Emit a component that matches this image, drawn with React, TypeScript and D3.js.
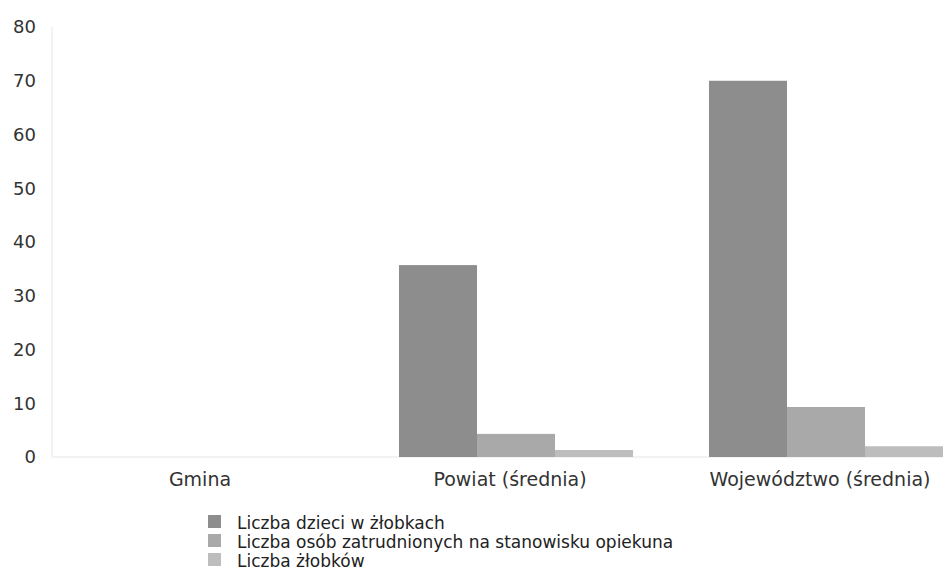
import React from "react";
import * as d3 from "d3";

const categories = ["Gmina", "Powiat (średnia)", "Województwo (średnia)"];
const seriesNames = [
  "Liczba dzieci w żłobkach",
  "Liczba osób zatrudnionych na stanowisku opiekuna",
  "Liczba żłobków",
];
const dzieci = [0, 35.7, 70.0];
const opiekunowie = [0, 4.3, 9.3];
const zlobki = [0, 1.3, 2.0];
const yTicks = [0, 10, 20, 30, 40, 50, 60, 70, 80];
const colors = ["#8d8d8d", "#a9a9a9", "#bdbdbd"];

const W = 943;
const H = 584;
const FONT = "'DejaVu Sans', Verdana, sans-serif";

export default function App() {
  const series = [dzieci, opiekunowie, zlobki];
  const x0 = d3
    .scaleBand<string>()
    .domain(categories)
    .range([51, 981])
    .paddingInner(0.245)
    .paddingOuter(0.1225);
  const x1 = d3
    .scaleBand<number>()
    .domain(d3.range(seriesNames.length))
    .range([0, x0.bandwidth()])
    .padding(0);
  const y = d3.scaleLinear().domain([0, 80]).range([457, 27]);

  return (
    <svg
      width={W}
      height={H}
      style={{ position: "absolute", left: 0, top: 0, background: "#fff" }}
    >
      <line x1={52} x2={52} y1={27} y2={y(0)} stroke="#f2f2f2" strokeWidth={2} />
      <line x1={52} x2={W} y1={y(0)} y2={y(0)} stroke="#f2f2f2" strokeWidth={2} />
      {yTicks.map((t) => (
        <text
          key={t}
          x={36}
          y={y(t)}
          dy="0.36em"
          textAnchor="end"
          fontFamily={FONT}
          fontSize={18}
          fill="#333"
        >
          {t}
        </text>
      ))}
      {categories.map((c, ci) => (
        <g key={c} transform={`translate(${x0(c)},0)`}>
          {series.map((s, si) => (
            <rect
              key={si}
              x={x1(si)}
              y={y(s[ci])}
              width={x1.bandwidth()}
              height={y(0) - y(s[ci])}
              fill={colors[si]}
            />
          ))}
        </g>
      ))}
      {categories.map((c) => (
        <text
          key={c}
          x={(x0(c) as number) + x0.bandwidth() / 2 - 6}
          y={486}
          textAnchor="middle"
          fontFamily={FONT}
          fontSize={19}
          fill="#333"
        >
          {c}
        </text>
      ))}
      {seriesNames.map((n, i) => (
        <g key={n} transform={`translate(208,${515 + i * 19})`}>
          <rect x={0} y={0} width={13} height={13} fill={colors[i]} />
          <text
            x={29}
            y={13.5}
            fontFamily={FONT}
            fontSize={17}
            fill="#222"
          >
            {n}
          </text>
        </g>
      ))}
    </svg>
  );
}
